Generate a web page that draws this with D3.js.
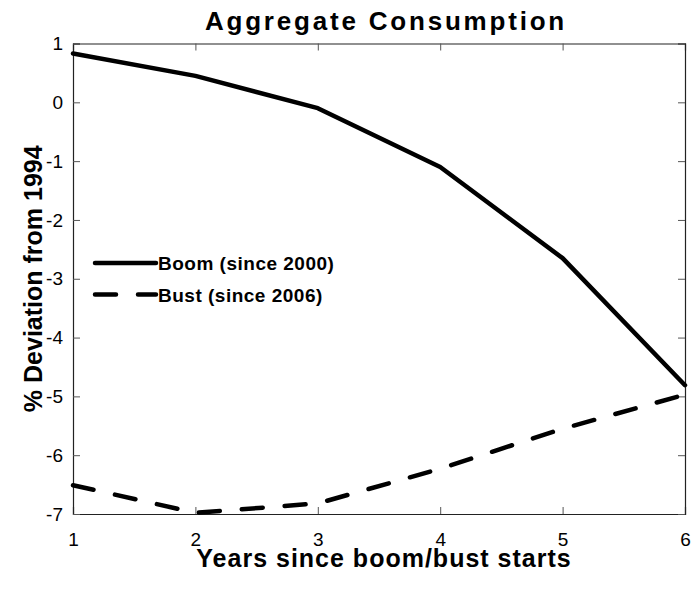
<!DOCTYPE html>
<html>
<head>
<meta charset="utf-8">
<script src="https://cdn.jsdelivr.net/npm/d3@7"></script>
<style>
  body { margin: 0; background: #fff; }
  text { font-family: "Liberation Sans", Arial, sans-serif; fill: #000; }
</style>
</head>
<body>
<svg id="chart" width="692" height="593"></svg>
<script>
// data
const years = [1, 2, 3, 4, 5, 6];
const boom = [0.83, 0.45, -0.10, -1.10, -2.65, -4.81];
const bust = [-6.51, -6.98, -6.82, -6.23, -5.55, -4.97];
const xTicks = [1, 2, 3, 4, 5, 6];
const yTicks = [1, 0, -1, -2, -3, -4, -5, -6, -7];
const seriesNames = ["Boom (since 2000)", "Bust (since 2006)"];

const svg = d3.select("#chart");
const plotLeft = 73, plotRight = 685, plotTop = 43.5, plotBottom = 514;

const x = d3.scaleLinear().domain([1, 6]).range([plotLeft, plotRight]);
const y = d3.scaleLinear().domain([-7, 1]).range([plotBottom, plotTop]);

const dashes = "21,22";
const plainNumber = d => String(d);   // keep the ascii hyphen like the original

// axes, ticks inward on all four sides
const tickLen = 7;
svg.append("g").attr("transform", `translate(0,${plotBottom})`)
    .call(d3.axisBottom(x).tickValues(xTicks).tickSize(-tickLen).tickPadding(19).tickFormat(plainNumber));
svg.append("g").attr("transform", `translate(0,${plotTop})`)
    .call(d3.axisTop(x).tickValues(xTicks).tickSize(-tickLen).tickFormat(""));
svg.append("g").attr("transform", `translate(${plotLeft},0)`)
    .call(d3.axisLeft(y).tickValues(yTicks).tickSize(-tickLen).tickPadding(10).tickFormat(plainNumber));
svg.append("g").attr("transform", `translate(${plotRight},0)`)
    .call(d3.axisRight(y).tickValues(yTicks).tickSize(-tickLen).tickFormat(""));

svg.selectAll(".domain").attr("stroke", "#222").attr("stroke-width", 1.2);
svg.selectAll(".tick line").attr("stroke", "#555");
svg.selectAll(".tick text")
    .attr("font-size", "19px")
    .attr("font-family", "Liberation Sans, Arial, sans-serif")
    .attr("fill", "#000");

// lines
const line = d3.line().x((d, i) => x(years[i])).y(d => y(d));

svg.append("path")
    .datum(boom)
    .attr("d", line)
    .attr("fill", "none")
    .attr("stroke", "#000")
    .attr("stroke-width", 4.5)
    .attr("stroke-linejoin", "round")
    .attr("stroke-linecap", "round");

svg.append("path")
    .datum(bust)
    .attr("d", line)
    .attr("fill", "none")
    .attr("stroke", "#000")
    .attr("stroke-width", 4.5)
    .attr("stroke-dasharray", dashes)
    .attr("stroke-linecap", "round");

// legend
const legend = svg.append("g");
[[263, null], [294.5, dashes]].forEach(([ly, dash], i) => {
    legend.append("line")
        .attr("x1", 95).attr("x2", 156)
        .attr("y1", ly).attr("y2", ly)
        .attr("stroke", "#000")
        .attr("stroke-width", 4.5)
        .attr("stroke-linecap", "round")
        .attr("stroke-dasharray", dash);
    legend.append("text")
        .attr("x", 158).attr("y", ly + 7)
        .attr("font-size", "19px")
        .attr("font-weight", "bold")
        .attr("letter-spacing", "0.5px")
        .text(seriesNames[i]);
});

// title and axis labels
svg.append("text")
    .attr("x", 386).attr("y", 30)
    .attr("text-anchor", "middle")
    .attr("font-size", "26px")
    .attr("font-weight", "bold")
    .attr("letter-spacing", "2.8px")
    .text("Aggregate Consumption");

svg.append("text")
    .attr("x", 384).attr("y", 567)
    .attr("text-anchor", "middle")
    .attr("font-size", "25px")
    .attr("font-weight", "bold")
    .attr("letter-spacing", "1px")
    .text("Years since boom/bust starts");

svg.append("text")
    .attr("transform", `translate(42,${(plotTop + plotBottom) / 2}) rotate(-90)`)
    .attr("text-anchor", "middle")
    .attr("font-size", "25px")
    .attr("font-weight", "bold")
    .text("% Deviation from 1994");
</script>
</body>
</html>
